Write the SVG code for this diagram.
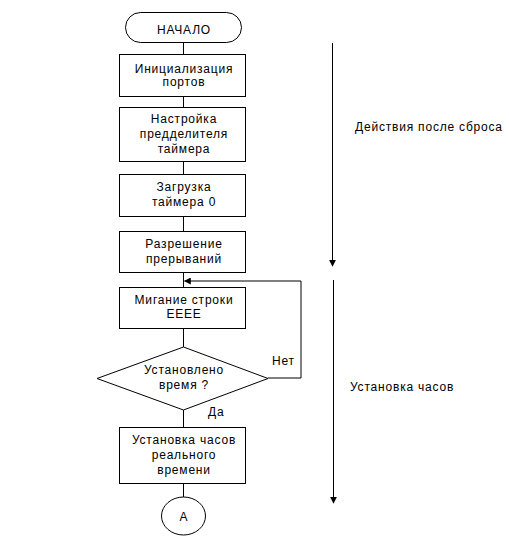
<svg xmlns="http://www.w3.org/2000/svg" width="509" height="545" viewBox="0 0 509 545">
<style>
.s{fill:#fff;stroke:#000;stroke-width:1}
.c{fill:none;stroke:#000;stroke-width:1}
text{font-family:"Liberation Sans",Arial,sans-serif;font-size:12px;letter-spacing:0.8px;fill:#000}
.m{text-anchor:middle}
</style>
<defs>
<marker id="ah" viewBox="0 0 10 10" refX="9" refY="5" markerWidth="7" markerHeight="7" markerUnits="userSpaceOnUse" orient="auto">
<path d="M0,0L10,5L0,10Z" fill="#000"/>
</marker>
</defs>
<rect width="509" height="545" fill="#fff"/>
<g id="connectors">
<path class="c" d="M183.5,42V54M183.5,96V107M183.5,161V174M183.5,216V231M183.5,272V287M183.5,328V347M183.5,410V427M183.5,483V497"/>
<path class="c" d="M268,378H301V281H184.5" marker-end="url(#ah)"/>
<path class="c" d="M332.5,43V266" marker-end="url(#ah)"/>
<path class="c" d="M333.5,280V503" marker-end="url(#ah)"/>
</g>
<g id="start"><rect class="s" x="125.5" y="12.5" width="116" height="30" rx="15"/><text class="m" x="184" y="34">НАЧАЛО</text></g>
<g id="init"><rect class="s" x="119.5" y="54.5" width="126" height="42"/><text class="m" x="184" y="73">Инициализация</text><text class="m" x="184" y="86">портов</text></g>
<g id="prescaler"><rect class="s" x="119.5" y="107.5" width="126" height="54"/><text class="m" x="184" y="123">Настройка</text><text class="m" x="184" y="138">предделителя</text><text class="m" x="184" y="153">таймера</text></g>
<g id="load"><rect class="s" x="119.5" y="174.5" width="126" height="42"/><text class="m" x="184" y="191">Загрузка</text><text class="m" x="184" y="206">таймера 0</text></g>
<g id="irq"><rect class="s" x="119.5" y="231.5" width="126" height="41"/><text class="m" x="184" y="248">Разрешение</text><text class="m" x="184" y="263">прерываний</text></g>
<g id="blink"><rect class="s" x="119.5" y="287.5" width="126" height="41"/><text class="m" x="184" y="304">Мигание строки</text><text class="m" x="184" y="318">ЕЕЕЕ</text></g>
<g id="decision"><polygon class="s" points="183.5,347 268,378.5 183.5,410 97,378.5"/><text class="m" x="184" y="374">Установлено</text><text class="m" x="184" y="389">время ?</text><text x="272" y="365">Нет</text><text x="208" y="416">Да</text></g>
<g id="setclock"><rect class="s" x="119.5" y="427.5" width="126" height="56"/><text class="m" x="184" y="444">Установка часов</text><text class="m" x="184" y="459">реального</text><text class="m" x="184" y="474">времени</text></g>
<g id="conn"><ellipse class="s" cx="183.5" cy="516" rx="22" ry="19"/><text class="m" x="184" y="521">А</text></g>
<g id="labels"><text x="355" y="131">Действия после сброса</text><text x="350" y="391">Установка часов</text></g>
</svg>
